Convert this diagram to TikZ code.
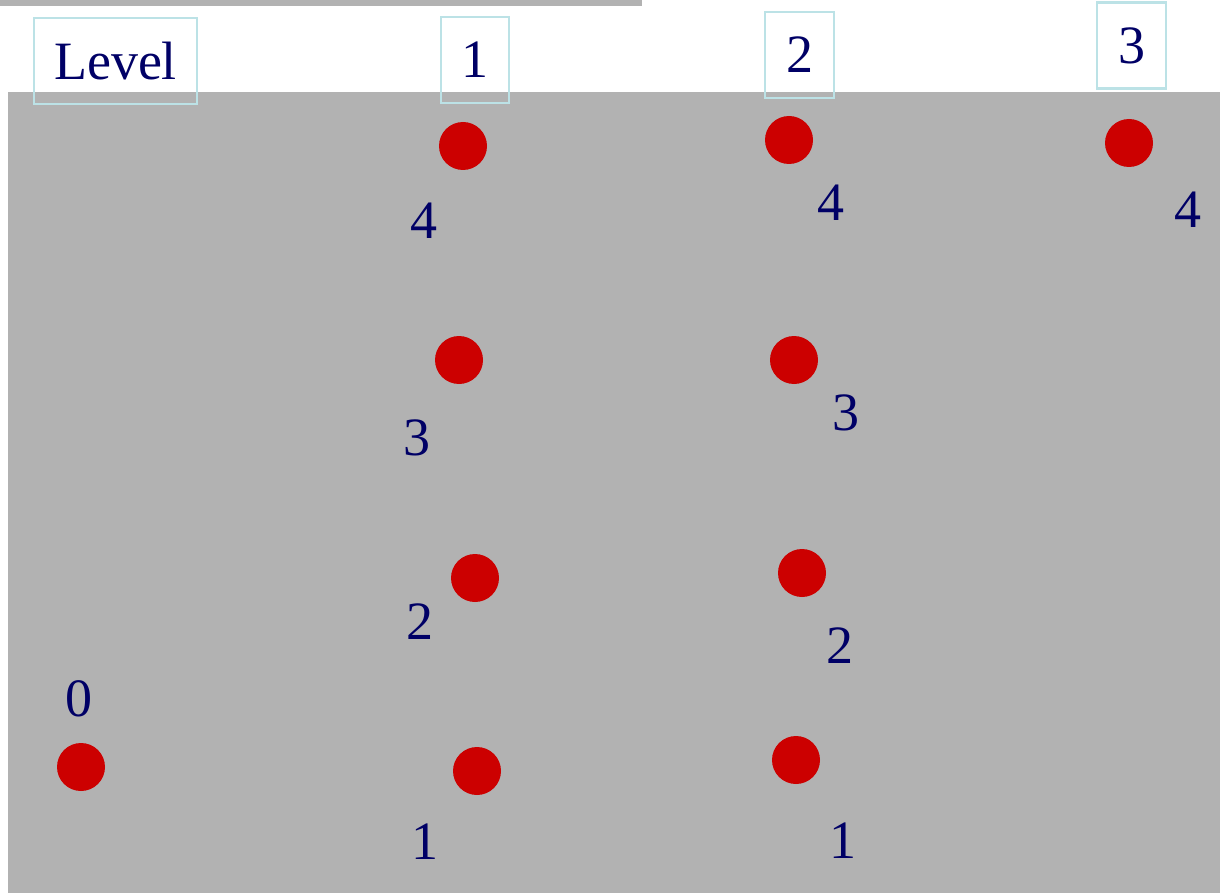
\documentclass[tikz,border=0pt]{standalone}
\usepackage{fontspec}
\setmainfont{Liberation Serif}
\definecolor{bggray}{HTML}{B2B2B2}
\definecolor{dotred}{HTML}{CC0000}
\definecolor{navy}{HTML}{000066}
\definecolor{boxcyan}{HTML}{BCE2E6}
\begin{document}
\begin{tikzpicture}[x=1pt,y=-1pt,
  dot/.style={circle,fill=dotred,minimum size=48pt,inner sep=0pt},
  lab/.style={text=navy,inner sep=0pt,font=\fontsize{54}{60}\selectfont},
  hbox/.style={draw=boxcyan,line width=2.5pt,minimum height=86pt,inner sep=0pt,text=navy,font=\fontsize{54}{60}\selectfont}]
\useasboundingbox (0,0) rectangle (1220,893);
\fill[white] (0,0) rectangle (1220,893);
\fill[bggray] (0,0) rectangle (642,6);
\fill[bggray] (8,92) rectangle (1220,893);
% header boxes
\node[hbox,minimum width=163pt] (hlevel) at (115.5,61) {Level};
\node[hbox,minimum width=68pt] (h1) at (475,60) {1};
\node[hbox,minimum width=69pt] (h2) at (799.5,55) {2};
\node[hbox,minimum width=69pt] (h3) at (1131.5,45.5) {3};
% level 0
\node[dot] (d0) at (81,767) {};
\node[lab] (l0) at (79,699) {0};
% column 1
\node[dot] (c1a) at (463,146) {};
\node[lab] (c1al) at (424,221) {4};
\node[dot] (c1b) at (459,360) {};
\node[lab] (c1bl) at (417,438) {3};
\node[dot] (c1c) at (475,578) {};
\node[lab] (c1cl) at (420,622) {2};
\node[dot] (c1d) at (477,771) {};
\node[lab] (c1dl) at (425,842) {1};
% column 2
\node[dot] (c2a) at (789,140) {};
\node[lab] (c2al) at (831,203) {4};
\node[dot] (c2b) at (794,360) {};
\node[lab] (c2bl) at (846,413) {3};
\node[dot] (c2c) at (802,573) {};
\node[lab] (c2cl) at (840,646) {2};
\node[dot] (c2d) at (796,760) {};
\node[lab] (c2dl) at (843,841) {1};
% column 3
\node[dot] (c3a) at (1129,143) {};
\node[lab] (c3al) at (1188,210) {4};
\end{tikzpicture}
\end{document}
